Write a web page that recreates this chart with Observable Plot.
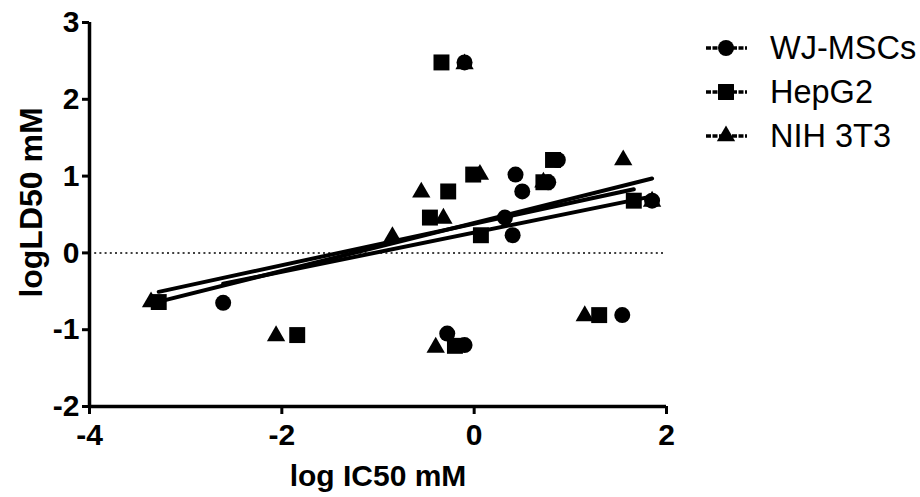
<!DOCTYPE html>
<html>
<head>
<meta charset="utf-8">
<script src="https://cdn.jsdelivr.net/npm/d3@7"></script>
<script src="https://cdn.jsdelivr.net/npm/@observablehq/plot@0.6"></script>
<style>
  html, body { margin: 0; padding: 0; background: white; }
  #wrap { position: relative; width: 920px; height: 497px; font-family: "Liberation Sans", Arial, sans-serif; }
  #legend { position: absolute; left: 700px; top: 0; }
  .row { position: absolute; left: 0; height: 40px; display: flex; align-items: center; white-space: nowrap; }
  .row span { font-size: 32.5px; margin-left: 22px; color: black; }
</style>
</head>
<body>
<div id="wrap"><div id="chart"></div><div id="legend"></div></div>
<script>
const seriesNames = ["WJ-MSCs", "HepG2", "NIH 3T3"];
const symbols = ["circle", "square", "triangle"];
const symbolR = [8, 9, 6.8];

const wjX  = [-0.10, 0.87, 0.43, 0.77, 0.50, 0.32, 0.40, 1.85, -2.61, -0.28, 1.54, -0.10];
const wjY  = [ 2.48, 1.21, 1.02, 0.92, 0.80, 0.46, 0.23, 0.68, -0.65, -1.05, -0.81, -1.20];
const hepX = [-0.34, 0.82, -0.01, 0.72, -0.27, -0.46, 0.07, 1.66, -3.28, -1.84, 1.30, -0.20];
const hepY = [ 2.48, 1.21, 1.02, 0.92, 0.80, 0.46, 0.23, 0.68, -0.64, -1.07, -0.81, -1.21];
const nihX = [-0.10, 1.55, 0.06, 0.72, -0.55, -0.32, -0.85, 1.85, -3.36, -2.06, 1.15, -0.40];
const nihY = [ 2.46, 1.21, 1.02, 0.92, 0.79, 0.45, 0.21, 0.67, -0.64, -1.08, -0.82, -1.23];

const xTicks = [-4, -2, 0, 2];
const yTicks = [-2, -1, 0, 1, 2, 3];
const xLabel = "log IC50 mM";
const yLabel = "logLD50 mM";

const seriesX = [wjX, hepX, nihX];
const seriesY = [wjY, hepY, nihY];
const data = [];
seriesNames.forEach((s, i) => seriesX[i].forEach((x, j) => data.push({series: s, x, y: seriesY[i][j]})));

const dotMarks = seriesNames.map((s, i) =>
  Plot.dot(data.filter(d => d.series === s), {x: "x", y: "y", symbol: () => symbols[i], r: symbolR[i], fill: "black", stroke: "none"})
);

const chart = Plot.plot({
  width: 700,
  height: 497,
  marginLeft: 89,
  marginRight: 34,
  marginTop: 22,
  marginBottom: 91,
  x: {domain: [-4, 2]},
  y: {domain: [-2, 3]},
  symbol: {type: "identity"},
  style: {fontFamily: "'Liberation Sans', Arial, sans-serif", fontWeight: "bold", fontSize: "30px", color: "black", background: "white", overflow: "visible"},
  marks: [
    Plot.ruleY([0], {stroke: "black", strokeWidth: 1.5, strokeDasharray: "2,3.2"}),
    Plot.linearRegressionY(data, {x: "x", y: "y", z: "series", stroke: "black", strokeWidth: 4, ci: 0}),
    ...dotMarks,
    Plot.axisX({ticks: xTicks, tickSize: 8, tickPadding: 9, tickFormat: d => String(d), strokeWidth: 3, label: null, fontSize: 30, fontWeight: "bold"}),
    Plot.axisY({ticks: yTicks, tickSize: 7, tickPadding: 3, tickFormat: d => String(d), strokeWidth: 3, label: null, fontSize: 30, fontWeight: "bold"}),
    Plot.ruleX([-4], {stroke: "black", strokeWidth: 3.5}),
    Plot.ruleY([-2], {stroke: "black", strokeWidth: 3.5}),
    Plot.text([xLabel], {frameAnchor: "bottom", lineAnchor: "middle", dy: 70, fontSize: 30, fontWeight: "bold", text: d => d}),
    Plot.text([yLabel], {frameAnchor: "left", textAnchor: "middle", lineAnchor: "middle", rotate: -90, dx: -58, dy: -12, fontSize: 32, fontWeight: "bold", text: d => d})
  ]
});
document.getElementById("chart").appendChild(chart);

// Legend
const legend = document.getElementById("legend");
const rowTops = [28, 72, 116];
seriesNames.forEach((s, i) => {
  const row = document.createElement("div");
  row.className = "row";
  row.style.top = rowTops[i] + "px";
  const svg = d3.create("svg").attr("width", 48).attr("height", 40);
  svg.append("line").attr("x1", 6).attr("x2", 47).attr("y1", 20).attr("y2", 20)
    .attr("stroke", "black").attr("stroke-width", 3.5).attr("stroke-dasharray", "5,1.5");
  const sym = [d3.symbolCircle, d3.symbolSquare, d3.symbolTriangle][i];
  const r = symbolR[i];
  svg.append("path").attr("d", d3.symbol(sym, Math.PI * r * r)()).attr("transform", "translate(26,20)").attr("fill", "black");
  row.appendChild(svg.node());
  const t = document.createElement("span");
  t.textContent = s;
  row.appendChild(t);
  legend.appendChild(row);
});
</script>
</body>
</html>
